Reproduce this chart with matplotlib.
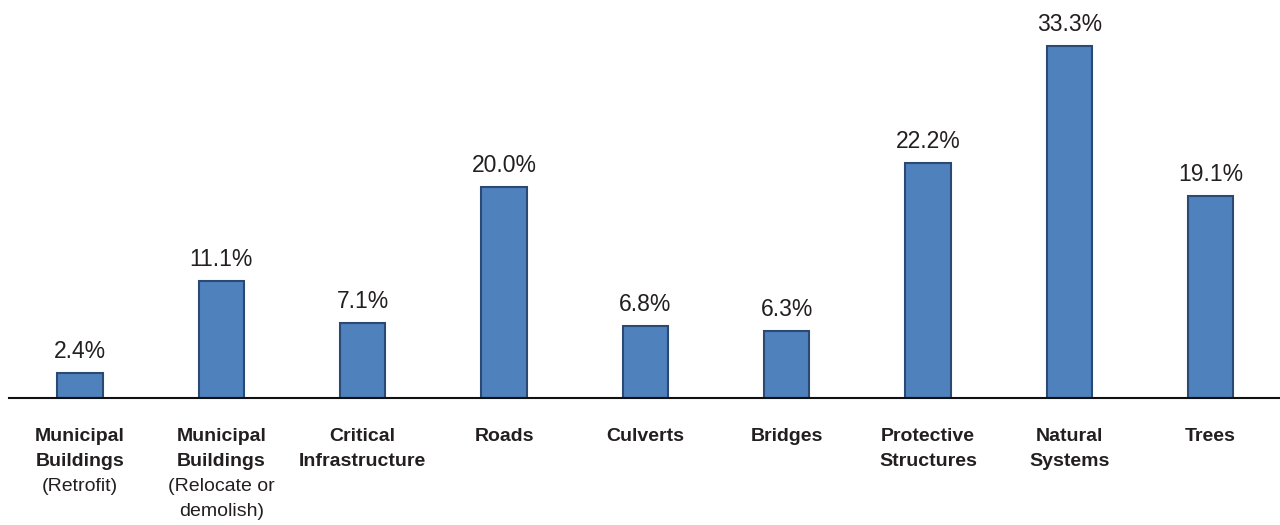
import matplotlib
matplotlib.use("Agg")
from matplotlib import pyplot as plt

# share of projects by asset type
categories = ["Municipal Buildings (Retrofit)", "Municipal Buildings (Relocate or demolish)",
              "Critical Infrastructure", "Roads", "Culverts", "Bridges",
              "Protective Structures", "Natural Systems", "Trees"]
values = [2.4, 11.1, 7.1, 20.0, 6.8, 6.3, 22.2, 33.3, 19.1]

# tick labels: bold lines first, then regular lines
bold_lines = [["Municipal", "Buildings"], ["Municipal", "Buildings"],
              ["Critical", "Infrastructure"], ["Roads"], ["Culverts"], ["Bridges"],
              ["Protective", "Structures"], ["Natural", "Systems"], ["Trees"]]
normal_lines = [["(Retrofit)"], ["(Relocate or", "demolish)"],
                [], [], [], [], [], [], []]

FONT = ["Liberation Sans Narrow", "Liberation Sans", "DejaVu Sans"]
TEXT = "#231F20"

fig = plt.figure(figsize=(12.8, 5.25), dpi=100)
ax = fig.add_axes([9.35 / 1280, 127 / 525, 1272 / 1280, 380.5 / 525])

xs = list(range(len(values)))
bars = ax.bar(xs, values, width=0.32, color="#4F81BD", edgecolor="#2A4A75", linewidth=1.5, zorder=2)

for x, v in zip(xs, values):
    ax.annotate(f"{v:.1f}%", xy=(x, v), xytext=(0, 10), textcoords="offset pixels",
                ha="center", va="bottom", fontsize=16.5, family=FONT, color=TEXT)

for x, bl, nl in zip(xs, bold_lines, normal_lines):
    lines = [(t, "bold") for t in bl] + [(t, "normal") for t in nl]
    for k, (t, w) in enumerate(lines):
        ax.annotate(t, xy=(x, 0), xycoords=("data", "axes fraction"),
                    xytext=(0, -30 - 25 * k), textcoords="offset pixels",
                    ha="center", va="top", fontsize=14, fontweight=w,
                    family=FONT, color=TEXT, annotation_clip=False)

ax.set_xlim(-0.5, len(values) - 0.5)
ax.set_ylim(0, 36)
for side in ["top", "right", "left"]:
    ax.spines[side].set_visible(False)
ax.spines["bottom"].set_linewidth(1.5)
ax.spines["bottom"].set_color("#111111")
ax.set_xticks([])
ax.set_yticks([])

plt.savefig("out.png", dpi=100)
